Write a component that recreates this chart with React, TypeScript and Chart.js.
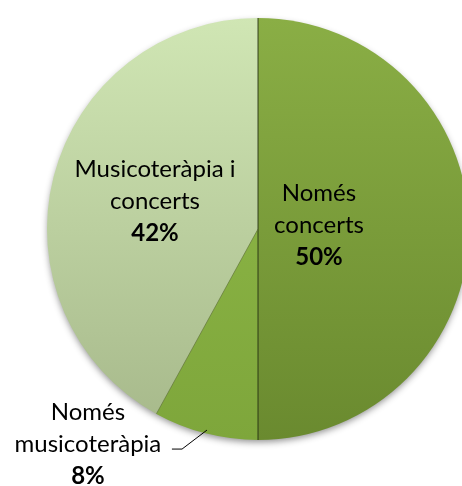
import React, { useEffect, useRef } from "react";
import { Chart, registerables } from "chart.js";

Chart.register(...registerables);

const categories = ["Només concerts", "Només musicoteràpia", "Musicoteràpia i concerts"];
const values = [50, 8, 42];
const labelLines = [["Només", "concerts"], ["Només", "musicoteràpia"], ["Musicoteràpia i", "concerts"]];
const pctLabels = ["50%", "8%", "42%"];

const topColors = ["#8aae45", "#92bc4a", "#d0e6b4"];
const bottomColors = ["#6a8a2f", "#7ea63b", "#a6b88a"];
// label offsets relative to pie centre, in radius units
const labelOffsets = [[0.289, -0.019], [-0.806, 1.019], [-0.488, -0.133]];
const FONT = "Lato, 'Open Sans', sans-serif";

const decorPlugin = {
  id: "decor",
  beforeDatasetsDraw(chart: any) {
    const meta = chart.getDatasetMeta(0);
    const a = meta.data[0];
    if (!a) return;
    const ctx = chart.ctx;
    ctx.save();
    ctx.beginPath();
    ctx.arc(a.x, a.y, a.outerRadius - 1, 0, Math.PI * 2);
    ctx.shadowColor = "rgba(0,0,0,0.45)";
    ctx.shadowBlur = 7;
    ctx.shadowOffsetY = 3;
    ctx.fillStyle = "#7a9a3a";
    ctx.fill();
    ctx.restore();
  },
  afterDatasetsDraw(chart: any) {
    const meta = chart.getDatasetMeta(0);
    const ctx = chart.ctx;
    const first = meta.data[0];
    if (!first) return;
    const cx = first.x, cy = first.y, r = first.outerRadius;
    ctx.save();
    meta.data.forEach((arc: any, i: number) => {
      ctx.beginPath();
      ctx.moveTo(cx, cy);
      ctx.lineTo(cx + r * Math.cos(arc.startAngle), cy + r * Math.sin(arc.startAngle));
      ctx.strokeStyle = i === 2 ? "rgba(90,110,50,0.6)" : "rgba(30,40,15,0.85)";
      ctx.lineWidth = 1;
      ctx.stroke();
    });
    ctx.fillStyle = "#000";
    ctx.textAlign = "center";
    ctx.textBaseline = "middle";
    const lh = 32;
    values.forEach((_, i) => {
      const lx = cx + r * labelOffsets[i][0];
      const ly = cy + r * labelOffsets[i][1];
      const lines = labelLines[i];
      const all = [...lines, pctLabels[i]];
      const startY = ly - ((all.length - 1) / 2) * lh;
      all.forEach((t, j) => {
        ctx.font = (j === all.length - 1 ? "bold " : "") + "24px " + FONT;
        ctx.fillText(t, lx, startY + j * lh);
      });
    });
    ctx.beginPath();
    ctx.moveTo(cx + r * -0.408, cy + r * 1.043);
    ctx.lineTo(cx + r * -0.36, cy + r * 1.043);
    ctx.lineTo(cx + r * -0.242, cy + r * 0.953);
    ctx.strokeStyle = "#000";
    ctx.lineWidth = 1;
    ctx.stroke();
    ctx.restore();
  },
};

export default function App() {
  const ref = useRef<HTMLCanvasElement>(null);
  useEffect(() => {
    document.body.style.margin = "0";
    const chart = new Chart(ref.current!, {
      type: "pie",
      data: {
        labels: categories,
        datasets: [
          {
            data: values,
            borderWidth: 0,
            backgroundColor: (c: any) => {
              const area = c.chart.chartArea;
              if (!area) return topColors[c.dataIndex];
              const g = c.chart.ctx.createLinearGradient(0, area.top, 0, area.bottom);
              g.addColorStop(0, topColors[c.dataIndex]);
              g.addColorStop(1, bottomColors[c.dataIndex]);
              return g;
            },
          },
        ],
      },
      options: {
        animation: false,
        responsive: false,
        layout: { padding: { left: 47, right: 11, top: 18, bottom: 46 } },
        plugins: { legend: { display: false }, tooltip: { enabled: false } },
      },
      plugins: [decorPlugin],
    });
    return () => chart.destroy();
  }, []);
  return (
    <div style={{ position: "fixed", left: 0, top: 0, width: 462, height: 486, overflow: "hidden", background: "#fff" }}>
      <canvas ref={ref} width={480} height={486} style={{ width: 480, height: 486, display: "block" }} />
    </div>
  );
}
